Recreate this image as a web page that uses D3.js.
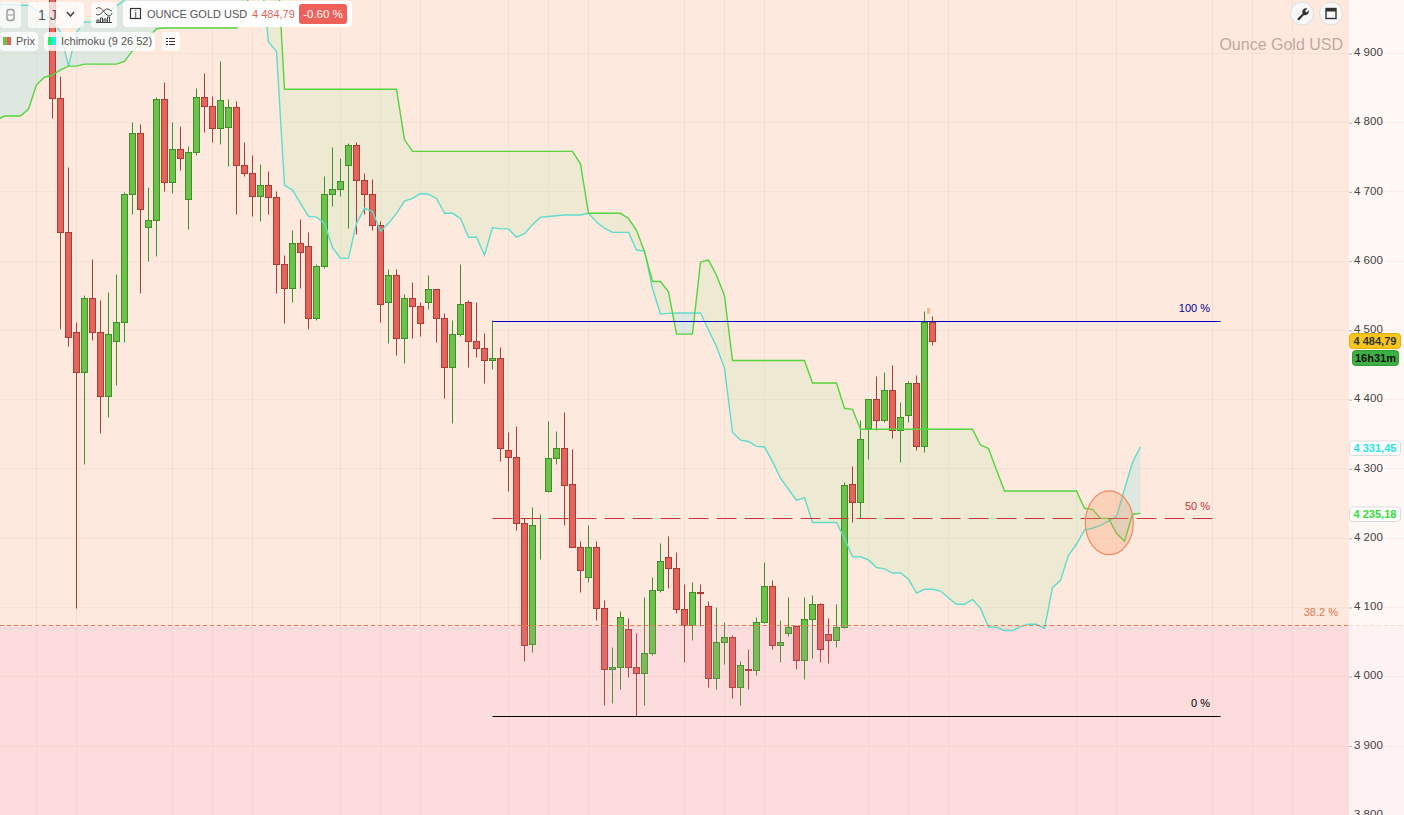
<!DOCTYPE html>
<html>
<head>
<meta charset="utf-8">
<title>Ounce Gold USD</title>
<script src="https://cdn.jsdelivr.net/npm/d3@7"></script>
<style>
    html, body { margin: 0; padding: 0; background: #fff8f5; overflow: hidden; }
    svg { display: block; font-family: "Liberation Sans", Arial, sans-serif; }
    .tick text { fill: #444; font-size: 11.5px; }
    .tick line { stroke: #bbb; }
    .pill { fill: #fff; fill-opacity: 0.82; }
</style>
</head>
<body>
<svg id="chart" width="1404" height="815"></svg>
<script>
const priceTicks = [3800, 3900, 4000, 4100, 4200, 4300, 4400, 4500, 4600, 4700, 4800, 4900]
// candle slots that carry a vertical grid line
const gridDays = [-2, 3, 15, 20, 25, 36, 41, 46, 57, 62, 67, 79, 84, 89, 102, 107, 112, 128, 133, 145, 150, 155]

const opens = [4980, 4835, 4642, 4497, 4440, 4546, 4497, 4404, 4484, 4512, 4696, 4784, 4649, 4659, 4833, 4714, 4762, 4689, 4757, 4836,
    4823, 4791, 4793, 4822, 4738, 4726, 4694, 4709, 4692, 4595, 4560, 4625, 4622, 4518, 4593, 4697, 4703, 4738, 4767, 4716,
    4696, 4651, 4540, 4580, 4488, 4546, 4534, 4540, 4559, 4518, 4446, 4494, 4541, 4484, 4474, 4456, 4460, 4326, 4316, 4221,
    4046, 4218, 4267, 4315, 4329, 4277, 4186, 4143, 4186, 4098, 4010, 4013, 4068, 4013, 4004, 4033, 4124, 4172, 4156, 4097,
    4074, 4121, 4102, 3998, 4050, 4056, 3984, 4010, 4009, 4079, 4131, 4045, 4062, 4072, 4023, 4082, 4104, 4061, 4052, 4071,
    4277, 4251, 4359, 4401, 4370, 4413, 4355, 4377, 4424, 4332, 4511]
const closes = [4835, 4642, 4490, 4440, 4546, 4497, 4404, 4494, 4512, 4696, 4784, 4675, 4659, 4833, 4714, 4762, 4749, 4757, 4836, 4823,
    4791, 4832, 4822, 4738, 4726, 4694, 4709, 4692, 4595, 4560, 4625, 4612, 4518, 4593, 4697, 4703, 4715, 4767, 4716, 4696,
    4651, 4538, 4580, 4488, 4546, 4534, 4510, 4559, 4518, 4446, 4494, 4538, 4484, 4474, 4456, 4460, 4329, 4316, 4221, 4045,
    4218, 4219, 4315, 4329, 4276, 4186, 4153, 4186, 4098, 4010, 4013, 4085, 4013, 4004, 4033, 4124, 4166, 4156, 4097, 4074,
    4121, 4120, 3998, 4050, 4056, 3984, 4016, 4009, 4079, 4131, 4045, 4050, 4071, 4023, 4082, 4104, 4040, 4052, 4071, 4276,
    4251, 4342, 4401, 4370, 4413, 4355, 4375, 4424, 4332, 4511, 4484.79]
const highs = [5000, 4867, 4735, 4511, 4551, 4602, 4543, 4555, 4581, 4699, 4800, 4798, 4707, 4836, 4858, 4800, 4795, 4766, 4850, 4871,
    4838, 4889, 4833, 4830, 4771, 4752, 4739, 4729, 4700, 4609, 4645, 4660, 4642, 4595, 4722, 4764, 4749, 4770, 4772, 4726,
    4718, 4657, 4588, 4588, 4552, 4569, 4540, 4579, 4559, 4524, 4515, 4595, 4544, 4540, 4495, 4514, 4475, 4352, 4362, 4228,
    4244, 4234, 4368, 4354, 4381, 4328, 4196, 4219, 4196, 4110, 4042, 4094, 4084, 4062, 4114, 4143, 4193, 4202, 4179, 4133,
    4136, 4133, 4108, 4100, 4079, 4059, 4022, 4039, 4085, 4165, 4139, 4081, 4114, 4074, 4114, 4118, 4106, 4084, 4104, 4280,
    4303, 4370, 4401, 4433, 4440, 4449, 4396, 4427, 4435, 4527, 4520]
const lows = [4806, 4501, 4477, 4099, 4306, 4486, 4351, 4374, 4420, 4482, 4667, 4554, 4600, 4607, 4700, 4698, 4731, 4646, 4752, 4786,
    4772, 4768, 4737, 4668, 4723, 4664, 4658, 4667, 4554, 4510, 4541, 4560, 4501, 4514, 4589, 4679, 4694, 4648, 4638, 4668,
    4644, 4512, 4481, 4464, 4453, 4489, 4492, 4530, 4482, 4402, 4366, 4492, 4447, 4461, 4424, 4443, 4311, 4268, 4211, 4022,
    4035, 4170, 4266, 4307, 4219, 4186, 4121, 4136, 4081, 3958, 3962, 3982, 3999, 3942, 3959, 4030, 4122, 4128, 4092, 4021,
    4053, 4072, 3985, 3982, 4017, 3968, 3959, 3982, 4002, 4077, 4039, 4021, 4058, 4011, 3996, 4027, 4020, 4019, 4042, 4069,
    4223, 4228, 4313, 4356, 4367, 4344, 4310, 4367, 4326, 4324, 4478]

// ichimoku spans start 7 slots before the first candle
const spanStart = -7
const spanA = [4803, 4809, 4809, 4809, 4819, 4854, 4865, 4868, 4875.5, 4881, 4881, 4884, 4884, 4884, 4884, 4884, 4888, 4903, 4913, 4922,
    4935, 4936, 4936, 4936, 4936, 4936, 4936, 4936, 4936, 4936, 4936, 4955, 5005, 5034, 5049, 5054.5,
    4847.6, 4847.6, 4847.6, 4847.6, 4847.6, 4847.6, 4847.6, 4847.6, 4847.6, 4847.6, 4847.6, 4847.6, 4847.6, 4847.6, 4847.6,
    4775,
    4758, 4758, 4758, 4758, 4758, 4758, 4758, 4758, 4758, 4758, 4758, 4758, 4758, 4758, 4758, 4758, 4758, 4758, 4758, 4758, 4758,
    4740,
    4668.5, 4668.5, 4668.5, 4668.5, 4668.5,
    4661, 4644, 4613, 4570, 4570, 4555, 4494, 4494, 4494, 4598, 4601, 4579, 4549.5,
    4456, 4456, 4456, 4456, 4456, 4456, 4456, 4456, 4456, 4456,
    4423.5, 4423.5, 4423.5, 4423.5, 4387, 4385.5,
    4356.6, 4356.6, 4356.6, 4356.6, 4356.6, 4356.6, 4356.6, 4356.6, 4356.6, 4356.6, 4356.6, 4356.6, 4356.6, 4356.6, 4356.6,
    4334, 4329, 4298,
    4267.5, 4267.5, 4267.5, 4267.5, 4267.5, 4267.5, 4267.5, 4267.5, 4267.5, 4267.5,
    4242.5, 4241, 4228, 4228, 4206.4, 4195, 4234, 4235.18]
const spanB = [4969, 4970, 4970, 4969, 4969, 4962, 4955, 4948, 4930, 4881, 4930, 4945, 4945, 4950.5, 4959, 4968, 4976.5, 4991,
    5034, 5034, 5034, 5034, 5034, 5034, 5034, 5034, 5034, 5034, 5034, 5034, 5034, 5034, 5034, 5020, 4916, 4902,
    4709, 4702, 4683, 4664, 4663, 4654, 4619, 4603.5, 4603.5, 4654, 4676, 4671, 4642.5, 4654, 4668.5, 4686, 4690, 4697, 4696, 4690,
    4668.5, 4668.5, 4661, 4634, 4634, 4608, 4648, 4646, 4646, 4634, 4639, 4652, 4663, 4664, 4665, 4666, 4666, 4666, 4668.5, 4656,
    4647, 4641, 4641, 4641, 4615.5, 4614, 4560, 4523, 4524, 4524.6, 4524.6, 4524.6, 4524.6, 4500, 4476, 4445, 4352, 4341, 4339, 4332,
    4331, 4310, 4286, 4270, 4254, 4258, 4222, 4222, 4222, 4222, 4199, 4173, 4172.5, 4168, 4157, 4155, 4149, 4149, 4140, 4120,
    4125.6, 4125.6, 4123, 4113, 4104, 4104, 4111, 4098, 4071, 4070.7, 4066, 4066, 4071.6, 4075, 4075, 4069, 4128, 4138.6, 4174.7, 4190.6,
    4211, 4213.7, 4218, 4224, 4231, 4270, 4309, 4331.45]

const fibLevels = ["100 %", "50 %", "38.2 %", "0 %"]
const fibPrices = [4513.7, 4228, 4074, 3943.3]
const fibColors = ["#0000c0", "#c8343a", "#e07848", "#000"]

const W = 1404, H = 815, plotRight = 1349
const x = d3.scaleLinear().domain([0, 100]).range([52.5, 852.5])
const y = d3.scaleLinear().domain([3800, 4900]).range([814.75, 53])
const crisp = v => Math.round(y(v)) + 0.5
const svg = d3.select("#chart")

const spanRows = spanA.map((a, i) => ({ day: spanStart + i, a: a, b: spanB[i] }))
const candles = opens.map((o, i) => ({ day: i, open: o, close: closes[i], high: highs[i], low: lows[i] }))

svg.append("rect").attr("width", W).attr("height", H).attr("fill", "#fff8f5")
svg.append("rect").attr("width", plotRight).attr("height", H).attr("fill", "#fee9df")

// grid
svg.append("g").selectAll("line").data(gridDays).enter().append("line")
    .attr("x1", d => x(d)).attr("x2", d => x(d))
    .attr("y1", 0).attr("y2", H)
    .attr("stroke", "#c8a898").attr("stroke-opacity", 0.14)
svg.append("g").selectAll("line").data(priceTicks).enter().append("line")
    .attr("x1", 0).attr("x2", W)
    .attr("y1", d => crisp(d)).attr("y2", d => crisp(d))
    .attr("stroke", "#c8a898").attr("stroke-opacity", 0.12)

// cloud, coloured by which span is on top
const defs = svg.append("defs")
const spanALine = d3.line().x(d => x(d.day)).y(d => y(d.a))
const spanBLine = d3.line().x(d => x(d.day)).y(d => y(d.b))
const cloudArea = d3.area().x(d => x(d.day)).y0(d => y(d.a)).y1(d => y(d.b))
defs.append("clipPath").attr("id", "belowA").append("path")
    .attr("d", d3.area().x(d => x(d.day)).y0(H + 50).y1(d => y(d.a))(spanRows))
defs.append("clipPath").attr("id", "aboveA").append("path")
    .attr("d", d3.area().x(d => x(d.day)).y0(-300).y1(d => y(d.a))(spanRows))
svg.append("path").attr("d", cloudArea(spanRows))
    .attr("clip-path", "url(#belowA)")
    .attr("fill", "#c0e9b0").attr("fill-opacity", 0.27)
svg.append("path").attr("d", cloudArea(spanRows))
    .attr("clip-path", "url(#aboveA)")
    .attr("fill", "#80e4e4").attr("fill-opacity", 0.25)

// candles
const candleGroup = svg.append("g").selectAll("g").data(candles).enter().append("g")
    .attr("stroke", d => d.close >= d.open ? "#3f8f28" : "#ad3a34")
candleGroup.append("line")
    .attr("x1", d => x(d.day)).attr("x2", d => x(d.day))
    .attr("y1", d => crisp(d.high)).attr("y2", d => crisp(d.low))
candleGroup.append("rect")
    .attr("x", d => x(d.day) - 3)
    .attr("y", d => crisp(Math.max(d.open, d.close)))
    .attr("width", 6)
    .attr("height", d => crisp(Math.min(d.open, d.close)) - crisp(Math.max(d.open, d.close)))
    .attr("fill", d => d.close >= d.open ? "#6cc24a" : "#e2645a")

// zone under the 38.2 level lies over the candles
svg.append("rect")
    .attr("x", 0).attr("y", crisp(fibPrices[2]))
    .attr("width", plotRight).attr("height", H)
    .attr("fill", "#f088c8").attr("fill-opacity", 0.13)
svg.append("rect")
    .attr("x", plotRight).attr("y", crisp(fibPrices[2]))
    .attr("width", W - plotRight).attr("height", H)
    .attr("fill", "#f088c8").attr("fill-opacity", 0.05)

// span lines
svg.append("path").attr("d", spanBLine(spanRows))
    .attr("fill", "none").attr("stroke", "#5fdccb").attr("stroke-width", 1.4)
svg.append("path").attr("d", spanALine(spanRows))
    .attr("fill", "none").attr("stroke", "#55d43c").attr("stroke-width", 1.4)

// fibonacci levels
const fibFrom = 55, fibTo = 146
svg.append("line")
    .attr("x1", x(fibFrom)).attr("x2", x(fibTo))
    .attr("y1", crisp(fibPrices[0])).attr("y2", crisp(fibPrices[0]))
    .attr("stroke", fibColors[0])
svg.append("line")
    .attr("x1", x(fibFrom)).attr("x2", x(fibTo))
    .attr("y1", crisp(fibPrices[3])).attr("y2", crisp(fibPrices[3]))
    .attr("stroke", fibColors[3])
svg.append("line")
    .attr("x1", x(fibFrom)).attr("x2", x(145))
    .attr("y1", crisp(fibPrices[1])).attr("y2", crisp(fibPrices[1]))
    .attr("stroke", fibColors[1]).attr("stroke-width", 1.2).attr("stroke-dasharray", "20 8")
svg.append("line")
    .attr("x1", 0).attr("x2", plotRight)
    .attr("y1", crisp(fibPrices[2])).attr("y2", crisp(fibPrices[2]))
    .attr("stroke", "#ea7a50").attr("stroke-dasharray", "4 3")
svg.append("line")
    .attr("x1", plotRight).attr("x2", W)
    .attr("y1", crisp(fibPrices[2])).attr("y2", crisp(fibPrices[2]))
    .attr("stroke", "#ea7a50").attr("stroke-opacity", 0.25).attr("stroke-dasharray", "4 3")

svg.append("text").text(fibLevels[0]).attr("x", 1210).attr("y", 312)
    .attr("text-anchor", "end").attr("font-size", 11).attr("font-weight", 500).attr("fill", "#000090")
svg.append("text").text(fibLevels[1]).attr("x", 1210).attr("y", 510)
    .attr("text-anchor", "end").attr("font-size", 11).attr("fill", fibColors[1])
svg.append("text").text(fibLevels[2]).attr("x", 1338).attr("y", 616)
    .attr("text-anchor", "end").attr("font-size", 11).attr("fill", fibColors[2])
svg.append("text").text(fibLevels[3]).attr("x", 1210).attr("y", 707)
    .attr("text-anchor", "end").attr("font-size", 11).attr("font-weight", 500).attr("fill", fibColors[3])

// oval note over the cloud twist
svg.append("ellipse")
    .attr("cx", x(132.1)).attr("cy", y(4221.6))
    .attr("rx", x(3) - x(0)).attr("ry", y(4200) - y(4246))
    .attr("fill", "#f8905a").attr("fill-opacity", 0.27)
    .attr("stroke", "#f08a5d").attr("stroke-width", 1.2)

// small marker over the last high
svg.append("rect")
    .attr("x", x(109.45) - 1).attr("y", y(4532))
    .attr("width", 3).attr("height", 6)
    .attr("fill", "#f4a070").attr("fill-opacity", 0.7)

// price axis
const axis = d3.axisRight(y)
    .tickValues(priceTicks)
    .tickSize(3)
    .tickPadding(2)
    .tickFormat(d => d3.format(",")(d).replace(",", " "))
const axisGroup = svg.append("g").attr("transform", `translate(${plotRight},0.5)`).call(axis)
axisGroup.select(".domain").remove()
axisGroup.selectAll("text").attr("y", -1.5)

// price tags
function priceTag(text, fill, border, color, top, height, left, width) {
    svg.append("rect")
        .attr("x", left).attr("y", top).attr("width", width).attr("height", height)
        .attr("rx", 3).attr("fill", fill).attr("stroke", border)
    svg.append("text").text(text)
        .attr("x", left + width / 2).attr("y", top + height / 2 + 4)
        .attr("text-anchor", "middle").attr("font-size", 11).attr("font-weight", 700).attr("fill", color)
}
priceTag("4 331,45", "#fff", "#dcdcdc", "#22e4e4", 441, 14.5, 1349.5, 51)
priceTag("4 235,18", "#fff", "#dcdcdc", "#33dd33", 507, 14.5, 1349.5, 51)
priceTag("4 484,79", "#f7c51c", "#e0b010", "#333", 333.5, 15, 1349.5, 51)
priceTag("16h31m", "#3cb043", "#2f9a36", "#111", 350.5, 15, 1352.5, 46)

// title on chart
svg.append("text").text("Ounce Gold USD")
    .attr("x", 1343).attr("y", 50)
    .attr("text-anchor", "end").attr("font-size", 16).attr("fill", "#bfaaa0")

// top right buttons
const buttons = svg.append("g")
buttons.selectAll("circle").data([1302, 1331]).enter().append("circle")
    .attr("cx", d => d).attr("cy", 13.5).attr("r", 11.5)
    .attr("fill", "#f8f8f8").attr("stroke", "#ddd")
buttons.append("path")
    .attr("d", "M1297 19 L1302.5 13.5 A3.8 3.8 0 0 1 1307.5 8.5 L1305 11 L1306.5 12.5 L1308.8 10.2 A3.8 3.8 0 0 1 1304 15 L1299 20.5 Z")
    .attr("fill", "#333")
buttons.append("rect").attr("x", 1326).attr("y", 8.5).attr("width", 10).attr("height", 10)
    .attr("fill", "none").attr("stroke", "#333").attr("stroke-width", 1.4)
buttons.append("rect").attr("x", 1326).attr("y", 8.5).attr("width", 10).attr("height", 3).attr("fill", "#333")

// toolbar
const toolbar = svg.append("g")
function pill(left, top, width, height, op) {
    toolbar.append("rect").attr("class", "pill")
        .attr("x", left).attr("y", top).attr("width", width).attr("height", height)
        .attr("rx", 4).style("fill-opacity", op)
}
function label(text, left, base, size, color, anchor) {
    toolbar.append("text").text(text)
        .attr("x", left).attr("y", base)
        .attr("font-size", size).attr("fill", color).attr("text-anchor", anchor || "start")
}
pill(0, 2, 21, 26, 0.75)
pill(28, 2, 56, 26, 0.75)
pill(91, 2, 26, 26, 0.75)
pill(123, 1, 229, 26, 0.95)
pill(0, 32, 38, 19, 0.82)
pill(44, 32, 111, 19, 0.82)
pill(162, 32, 18, 19, 0.82)

toolbar.append("rect").attr("x", 7).attr("y", 9.5).attr("width", 7).attr("height", 11).attr("rx", 2.5)
    .attr("fill", "none").attr("stroke", "#999").attr("stroke-width", 1.4)
toolbar.append("line").attr("x1", 8).attr("x2", 13).attr("y1", 15).attr("y2", 15).attr("stroke", "#999")
label("1 J", 38, 20, 14, "#555")
toolbar.append("path").attr("d", "M67 12 L70.5 16 L74 12").attr("fill", "none").attr("stroke", "#444").attr("stroke-width", 1.5)
toolbar.append("path").attr("d", "M96 9 C100 5 103 11 106 14 C109 17 111 16 112 13 M96 14 C100 18 104 8 108 9 C110 10 111 11 112 11")
    .attr("fill", "none").attr("stroke", "#444").attr("stroke-width", 1)
toolbar.append("path").attr("d", "M97 22 V20 H99 V22 M100.5 22 V18 H102.5 V22 M104 22 V19 H106 V22 M107.5 22 V17 H109.5 V22 M96 22.5 H112")
    .attr("fill", "none").attr("stroke", "#444").attr("stroke-width", 1)
toolbar.append("rect").attr("x", 130.5).attr("y", 8.5).attr("width", 10).attr("height", 10)
    .attr("fill", "none").attr("stroke", "#333").attr("stroke-width", 1.2)
label("i", 135.5, 17.5, 10, "#333", "middle")
label("OUNCE GOLD USD", 147, 18, 11, "#555")
label("4 484,79", 252, 18, 11, "#e0645a")
toolbar.append("rect").attr("x", 299).attr("y", 4).attr("width", 48).attr("height", 20).attr("rx", 3).attr("fill", "#f0605a")
label("-0.60 %", 323, 18, 11.5, "#fff", "middle")

toolbar.append("rect").attr("x", 3).attr("y", 37).attr("width", 4).attr("height", 8).attr("fill", "#6cc24a")
toolbar.append("rect").attr("x", 7).attr("y", 37).attr("width", 4).attr("height", 8).attr("fill", "#e2645a")
label("Prix", 16, 45, 11, "#555")
toolbar.append("rect").attr("x", 48).attr("y", 37).attr("width", 4).attr("height", 8).attr("fill", "#22ee66")
toolbar.append("rect").attr("x", 52).attr("y", 37).attr("width", 4).attr("height", 8).attr("fill", "#22eeee")
label("Ichimoku (9 26 52)", 61, 45, 11, "#555")
toolbar.selectAll("line.list").data([38, 41, 44]).enter().append("line").attr("class", "list")
    .attr("x1", 169).attr("x2", 175).attr("y1", d => d + 0.5).attr("y2", d => d + 0.5).attr("stroke", "#333")
toolbar.selectAll("line.bul").data([38, 41, 44]).enter().append("line").attr("class", "bul")
    .attr("x1", 166).attr("x2", 168).attr("y1", d => d + 0.5).attr("y2", d => d + 0.5).attr("stroke", "#333")
</script>
</body>
</html>
